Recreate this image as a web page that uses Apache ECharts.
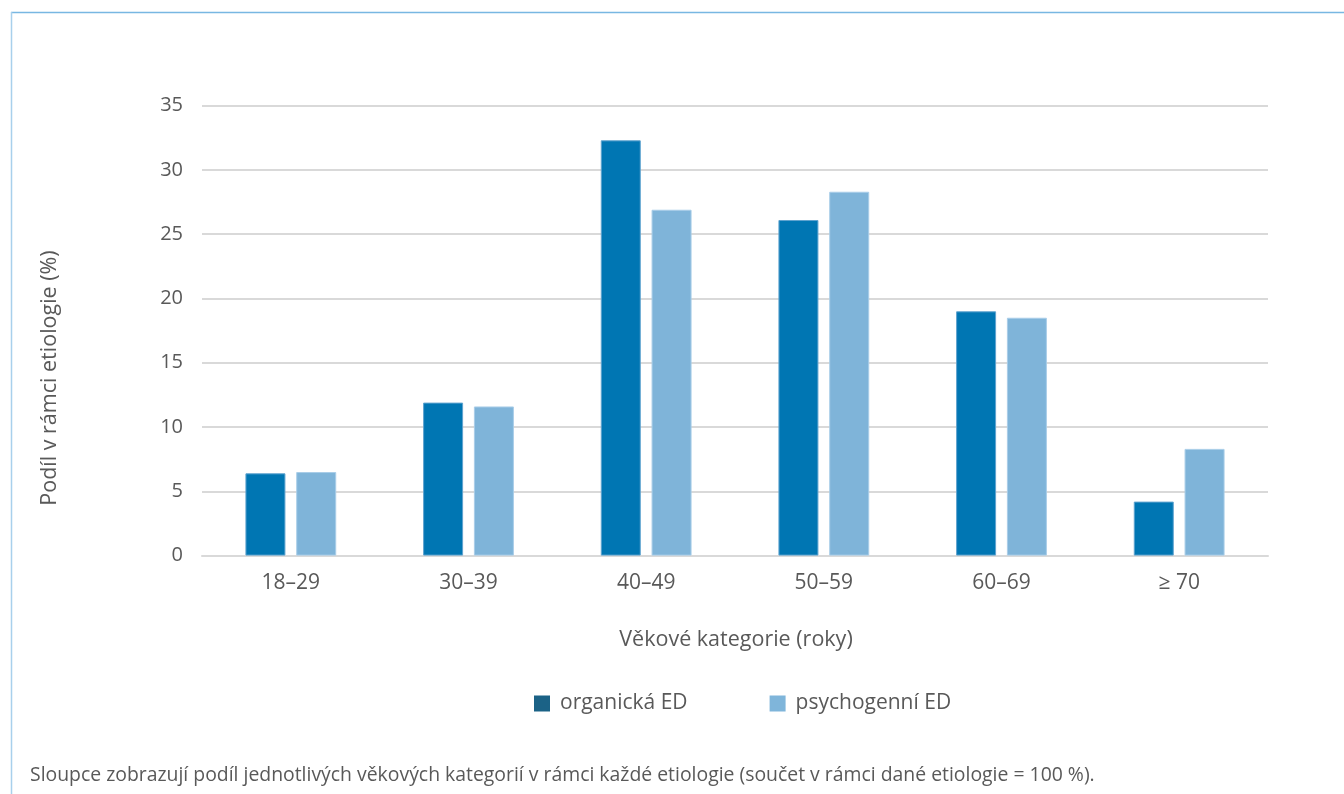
<!DOCTYPE html>
<html>
<head>
<meta charset="utf-8">
<script src="https://cdn.jsdelivr.net/npm/echarts@6/dist/echarts.min.js"></script>
<style>
  html, body { margin: 0; padding: 0; background: #fff; }
  #chart { width: 1344px; height: 794px; }
</style>
</head>
<body>
<div id="chart"></div>
<script>
// Age groups and the share of each group within each etiology (%)
const categories = ['18–29', '30–39', '40–49', '50–59', '60–69', '≥ 70'];
const organicValues = [6.4, 11.9, 32.3, 26.1, 19.0, 4.2];
const psychogenicValues = [6.5, 11.6, 26.9, 28.3, 18.5, 8.3];
const seriesNames = ['organická ED', 'psychogenní ED'];
const yTicks = { min: 0, max: 35, interval: 5 };

const FONT = '"Open Sans", "Noto Sans", sans-serif';
const TEXT = '#595959';

const chart = echarts.init(document.getElementById('chart'), null, { renderer: 'canvas' });

chart.setOption({
  backgroundColor: '#ffffff',
  animation: false,
  textStyle: { fontFamily: FONT, color: TEXT },
  grid: { left: 202, right: 76, top: 105.6, bottom: 238.4, containLabel: false },
  legend: {
    top: 693,
    left: 534,
    padding: 0,
    itemWidth: 16,
    itemHeight: 16,
    itemGap: 82,
    icon: 'rect',
    textStyle: { fontFamily: FONT, fontSize: 21, color: TEXT, padding: [0, 0, 0, 5] },
    data: [
      { name: seriesNames[0], itemStyle: { color: '#1b6286', borderWidth: 0 } },
      { name: seriesNames[1], itemStyle: { color: '#7fb5da', borderWidth: 0 } }
    ]
  },
  xAxis: {
    type: 'category',
    data: categories,
    axisLine: { lineStyle: { color: '#d9d9d9', width: 2 } },
    axisTick: { show: false },
    axisLabel: { fontFamily: FONT, fontSize: 21, color: TEXT, margin: 17 }
  },
  yAxis: {
    type: 'value',
    min: yTicks.min,
    max: yTicks.max,
    interval: yTicks.interval,
    axisLine: { show: false },
    axisTick: { show: false },
    axisLabel: { fontFamily: FONT, fontSize: 20, color: TEXT, margin: 19 },
    splitLine: { lineStyle: { color: '#d9d9d9', width: 2 } }
  },
  series: [
    {
      name: seriesNames[0],
      type: 'bar',
      data: organicValues,
      barWidth: 40,
      barGap: '27%',
      itemStyle: { color: '#0076b3', borderColor: '#5fa3cf', borderWidth: 1 }
    },
    {
      name: seriesNames[1],
      type: 'bar',
      data: psychogenicValues,
      barWidth: 40,
      itemStyle: { color: '#7fb4d9', borderColor: '#a9cde8', borderWidth: 1 }
    }
  ],
  graphic: [
    // frame: top and left rules
    { type: 'line', shape: { x1: 11, y1: 12.5, x2: 1344, y2: 12.5 }, style: { stroke: '#78b7e2', lineWidth: 1.5 }, silent: true },
    { type: 'line', shape: { x1: 11.5, y1: 12, x2: 11.5, y2: 794 }, style: { stroke: '#a8d0ec', lineWidth: 1.5 }, silent: true },
    // y-axis title
    {
      type: 'text',
      x: 50, y: 378, rotation: Math.PI / 2,
      style: { text: 'Podíl v rámci etiologie (%)', fontFamily: FONT, fontSize: 21.5, fill: TEXT, align: 'center', verticalAlign: 'middle' },
      silent: true
    },
    // x-axis title
    {
      type: 'text',
      x: 736, y: 640,
      style: { text: 'Věkové kategorie (roky)', fontFamily: FONT, fontSize: 21.5, fill: TEXT, align: 'center', verticalAlign: 'middle' },
      silent: true
    },
    // note under the chart
    {
      type: 'text',
      x: 30, y: 775,
      style: { text: 'Sloupce zobrazují podíl jednotlivých věkových kategorií v rámci každé etiologie (součet v rámci dané etiologie = 100 %).', fontFamily: FONT, fontSize: 19.4, fill: TEXT, align: 'left', verticalAlign: 'middle' },
      silent: true
    }
  ]
});
</script>
</body>
</html>
